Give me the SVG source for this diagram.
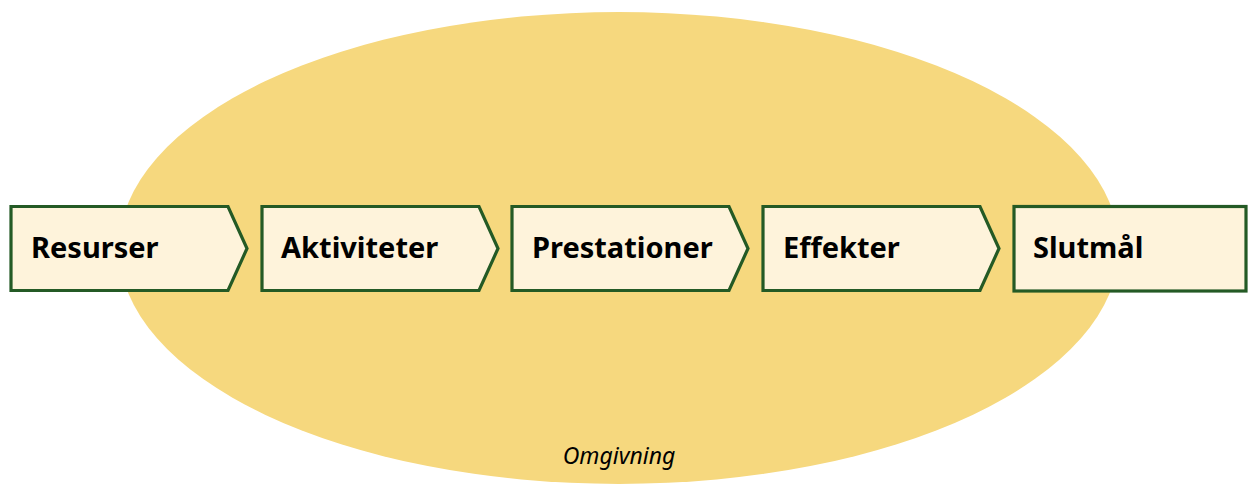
<svg xmlns="http://www.w3.org/2000/svg" width="1248" height="484" viewBox="0 0 1248 484">
<style>
.bg{fill:#f6d87e}
.box{fill:#fef3db;stroke:#245a25;stroke-width:3.2;stroke-linejoin:miter}
.lbl{font-family:"Noto Sans","Open Sans",sans-serif;font-weight:bold;font-size:29px;fill:#000}
.env{font-family:"Noto Sans","Open Sans",sans-serif;font-style:italic;font-size:23px;fill:#000}
</style>
<g id="omgivning">
<ellipse class="bg" cx="619" cy="248" rx="500" ry="236"/>
<text class="env" x="619" y="464" text-anchor="middle">Omgivning</text>
</g>
<g id="connectors"></g>
<g id="resurser">
<path class="box" d="M11,206.5 H228 L247,248.5 L228,290.5 H11 Z"/>
<text class="lbl" x="31" y="258">Resurser</text>
</g>
<g id="aktiviteter">
<path class="box" d="M262,206.5 H479 L498,248.5 L479,290.5 H262 Z"/>
<text class="lbl" x="281" y="258">Aktiviteter</text>
</g>
<g id="prestationer">
<path class="box" d="M512,206.5 H729 L748,248.5 L729,290.5 H512 Z"/>
<text class="lbl" x="532" y="258">Prestationer</text>
</g>
<g id="effekter">
<path class="box" d="M763,206.5 H980 L999,248.5 L980,290.5 H763 Z"/>
<text class="lbl" x="783" y="258">Effekter</text>
</g>
<g id="slutmal">
<rect class="box" x="1014" y="206.5" width="232" height="84.5"/>
<text class="lbl" x="1033" y="258">Slutmål</text>
</g>
</svg>
